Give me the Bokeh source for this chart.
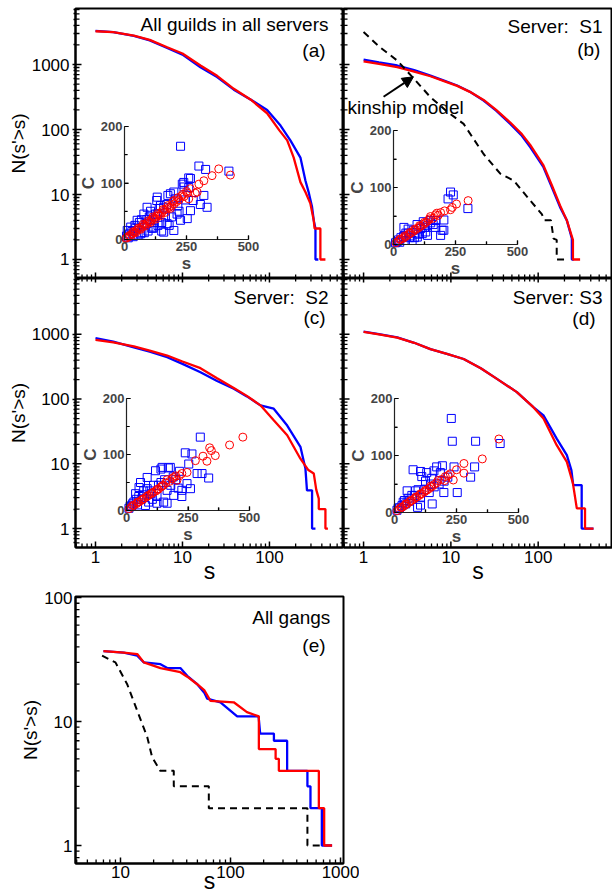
import math
from bokeh.plotting import figure
from bokeh.layouts import column, row
from bokeh.models import (Range1d, LinearScale, LinearAxis, FixedTicker,
                          PrintfTickFormatter, Label, Arrow, NormalHead)
from bokeh.embed import file_html
from bokeh.resources import INLINE

FONT = "Liberation Sans"
BLUE = "#0000ff"
RED = "#ff0000"

# ---------------- cumulative distributions N(s'>s) ----------------
a_blue_s = [1, 1.6, 2.76, 4.2, 6.67, 10, 16.1, 25, 38.9, 60.5, 94, 134, 174, 227, 259, 282, 309, 323, 338, 338, 365]
a_blue_n = [3300, 3150, 2750, 2350, 1800, 1420, 908, 640, 410, 290, 200, 115, 68, 37, 16.4, 10.9, 6.4, 4, 3, 1, 1]
a_red_s = [1, 1.6, 2.76, 4.2, 6.67, 10, 16.1, 25, 38.9, 60.5, 94, 130, 160, 190, 227, 259, 295, 323, 330, 385, 385, 440]
a_red_n = [3250, 3150, 2790, 2400, 1846, 1480, 966, 670, 423, 290, 178, 97, 68, 37, 15.5, 10.9, 7.3, 4, 3, 3, 1, 1]

b_blue_s = [1, 1.5, 2.43, 3.8, 5.83, 8.5, 11.8, 16.5, 23.7, 33, 47.9, 65, 81, 115, 143, 178, 213, 243, 243, 255]
b_blue_n = [1194, 1080, 966, 820, 674, 560, 475, 380, 279, 195, 122, 80, 53.5, 26.3, 13, 6.4, 4, 2.1, 1, 1]
b_red_s = [1, 1.5, 2.43, 3.8, 5.83, 8.5, 11.8, 16.5, 23.7, 33, 47.9, 65, 81, 115, 143, 178, 213, 250, 250, 302]
b_red_n = [1120, 1020, 910, 780, 660, 550, 470, 380, 285, 200, 128, 85, 58, 28, 14, 6.8, 4, 2, 1, 1]
b_kin_s = [1, 1.5, 2.43, 3.8, 5.83, 9, 14, 23.7, 36.8, 52.4, 81, 110, 118, 140, 150, 163, 163, 213]
b_kin_n = [3160, 1900, 1150, 600, 314, 190, 122, 42, 20.9, 16.4, 8.1, 5, 4, 4, 2.1, 2, 1, 1]

c_blue_s = [1, 1.6, 2.76, 4.2, 6.67, 10, 16.1, 25, 38.9, 55, 78.8, 112, 160, 227, 259, 270, 309, 309, 338]
c_blue_n = [870, 770, 631, 540, 443, 350, 260, 190, 144, 110, 80, 71, 39, 18.3, 8.5, 3.9, 3.9, 1, 1]
c_red_s = [1, 1.6, 2.76, 4.2, 6.67, 10, 16.1, 25, 38.9, 55, 78.8, 112, 160, 227, 280, 323, 345, 369, 369, 440, 440, 470]
c_red_n = [820, 750, 650, 560, 470, 380, 300, 210, 148, 112, 80, 47, 27.6, 12, 8, 7.1, 4, 2.9, 2, 2, 1, 1]

d_blue_s = [1, 1.5, 2.43, 3.8, 5.83, 9, 14, 22, 33.7, 57, 88, 115, 163, 213, 240, 252, 315, 315, 430]
d_blue_n = [1100, 1010, 900, 740, 590, 500, 416, 300, 205, 128, 75, 56, 24.5, 13.6, 8, 4.7, 4.7, 1, 1]
d_red_s = [1, 1.5, 2.43, 3.8, 5.83, 9, 14, 22, 33.7, 57, 88, 115, 163, 213, 250, 277, 344, 344, 430]
d_red_n = [1090, 1000, 890, 740, 590, 500, 416, 300, 205, 128, 75, 50, 19.4, 10.7, 5, 2.05, 2.05, 1, 1]

e_blue_s = [7, 10.7, 14.2, 16.3, 23.1, 26.6, 35, 40.4, 49.8, 58, 61.4, 81, 115, 180, 186, 248, 248, 327, 327, 500, 500, 533, 533, 676, 676, 838]
e_blue_n = [37, 36, 34, 30, 29, 27, 27, 23.4, 20, 17, 15.3, 14.3, 11, 11, 8, 8, 7, 7, 4, 4, 3, 3, 2, 2, 1, 1]
e_red_s = [7, 10.7, 14.2, 16.3, 23.1, 35, 40.4, 49.8, 58, 65.8, 107, 141, 181, 181, 257, 257, 275, 275, 635, 635, 710, 710, 838]
e_red_n = [37, 36, 35, 30, 27, 25, 23, 20, 17.8, 14.7, 14.3, 11.9, 11, 6, 6, 5, 5, 4, 4, 2, 2, 1, 1]
e_kin_s = [6.8, 9, 11.5, 14.2, 17.5, 19.4, 23, 30.5, 30.5, 63.5, 63.5, 500, 500, 660]
e_kin_n = [34, 30, 20, 12.2, 7.5, 5.15, 4, 4, 3, 3, 2, 2, 1, 1]

# ---------------- inset scatter: C versus s ----------------
a_sq_s = [226, 300, 327, 421, 259, 233, 240, 266, 239, 320,
          333, 306, 277, 259, 199, 132, 185, 130, 158, 132,
          212, 266, 226, 172, 118, 158, 78, 91, 51, 38,
          64, 11, 25, 199, 253, 100, 110, 150, 170, 60,
          45, 80, 140, 120, 30, 20, 90, 205, 180, 220,
          15, 35, 55, 70, 95, 115, 135, 165, 190, 245,
          8, 42, 68, 88, 105, 125, 145, 175, 215, 150]
a_sq_c = [165, 130, 124, 121, 109, 98, 93, 108, 101, 78,
          57, 62, 69, 92, 84, 75, 81, 69, 57, 45,
          45, 51, 34, 28, 22, 13, 45, 57, 34, 16,
          10, 16, 22, 16, 37, 40, 20, 30, 62, 30,
          20, 12, 55, 30, 14, 10, 35, 72, 25, 50,
          3, 5, 8, 12, 15, 20, 25, 40, 40, 70,
          6, 25, 35, 28, 50, 45, 60, 78, 60, 15]
a_ci_s = [380, 427, 353, 320, 300, 293, 285, 253, 259, 230,
          199, 5, 10, 15, 20, 30, 40, 50, 60, 70,
          80, 90, 100, 110, 120, 130, 140, 150, 160, 170,
          180, 190, 200, 210, 220, 240, 25, 45, 65, 85,
          105, 125, 145, 165, 185, 35, 55, 75, 95, 115,
          135, 155, 175, 195, 215, 235, 250, 265]
a_ci_c = [125, 114, 113, 104, 98, 84, 82, 82, 72, 77,
          69, 2, 3, 5, 7, 10, 13, 16, 19, 22,
          26, 28, 31, 35, 38, 41, 44, 47, 52, 54,
          57, 60, 63, 67, 70, 76, 6, 12, 18, 24,
          30, 36, 42, 48, 55, 14, 20, 27, 33, 40,
          46, 53, 60, 67, 74, 80, 85, 90]

b_sq_s = [230, 241, 220, 300, 203, 196, 203, 190, 169, 171,
          149, 137, 137, 116, 96, 75, 48, 42, 59, 80,
          95, 30, 20, 60, 110, 125, 150, 100, 70, 15,
          40, 85, 130, 160, 8, 25, 50, 65, 90, 120]
b_sq_c = [92, 87, 80, 63, 43, 25, 25, 16, 30, 42,
          42, 33, 16, 19, 13, 7, 7, 30, 27, 25,
          35, 12, 8, 20, 28, 30, 38, 18, 15, 5,
          14, 12, 22, 35, 3, 4, 20, 12, 20, 40]
b_ci_s = [301, 254, 237, 230, 206, 190, 169, 149, 10, 20,
          30, 40, 50, 60, 70, 80, 90, 100, 110, 120,
          130, 140, 160, 180, 25, 45, 65, 85, 105, 125,
          145, 175]
b_ci_c = [77, 71, 65, 61, 59, 56, 52, 49, 3, 6,
          9, 11, 14, 17, 20, 23, 26, 29, 32, 35,
          38, 42, 46, 51, 9, 15, 21, 27, 33, 39,
          45, 55]

c_sq_s = [300, 239, 266, 253, 287, 307, 334, 178, 145, 118,
          140, 170, 84, 57, 51, 246, 260, 225, 165, 192,
          225, 124, 151, 165, 124, 77, 84, 37, 20, 30,
          60, 100, 110, 200, 210, 90, 140, 45, 70, 190,
          10, 15, 25, 40, 50, 65, 95, 105, 130, 155,
          180, 215]
c_sq_c = [131, 103, 101, 83, 66, 66, 58, 77, 77, 71,
          74, 76, 59, 50, 41, 48, 39, 36, 36, 27,
          25, 25, 15, 13, 13, 9, 39, 30, 8, 15,
          20, 30, 45, 55, 40, 15, 50, 10, 35, 60,
          4, 8, 12, 20, 25, 28, 35, 20, 45, 55,
          45, 70]
c_ci_s = [473, 419, 338, 345, 361, 311, 280, 327, 246, 225,
          192, 205, 165, 10, 20, 30, 40, 50, 60, 70,
          80, 90, 100, 110, 120, 130, 140, 150, 175, 185,
          215, 25, 45, 65, 85, 105, 125, 145, 160, 200]
c_ci_c = [131, 117, 112, 107, 98, 97, 89, 88, 68, 66,
          59, 54, 55, 3, 6, 9, 12, 15, 18, 21,
          24, 27, 30, 33, 35, 38, 42, 45, 52, 57,
          62, 9, 15, 20, 26, 31, 38, 44, 49, 62]

d_sq_s = [229, 233, 327, 426, 193, 240, 307, 323, 253, 199,
          152, 75, 105, 130, 159, 170, 110, 145, 85, 105,
          51, 40, 93, 105, 20, 30, 60, 70, 120, 140,
          180, 200, 215, 45, 160, 10, 15, 35, 55, 80,
          95, 125, 150, 185]
d_sq_c = [165, 125, 125, 121, 82, 80, 62, 80, 35, 35,
          15, 75, 72, 70, 73, 80, 63, 50, 38, 26,
          38, 21, 9, 13, 8, 12, 20, 30, 40, 35,
          50, 55, 62, 15, 45, 4, 8, 18, 25, 30,
          40, 55, 60, 70]
d_ci_s = [421, 354, 280, 280, 250, 237, 216, 202, 175, 10,
          20, 30, 40, 50, 60, 70, 80, 90, 100, 110,
          120, 130, 140, 150, 160, 190, 225, 25, 45, 65,
          85, 105, 125, 145, 170, 205]
d_ci_c = [129, 94, 86, 69, 75, 57, 65, 56, 56, 3,
          6, 9, 12, 15, 18, 21, 24, 27, 30, 33,
          36, 39, 42, 45, 49, 58, 68, 9, 15, 21,
          27, 33, 39, 46, 52, 63]

# ---------------- tick values ----------------
main_ticks = [1, 10, 100, 1000]
e_x_ticks = [10, 100, 1000]
e_y_ticks = [1, 10, 100]
inset_s_ticks = [0, 250, 500]
inset_s_minor = [125, 375]
inset_c_ticks = [0, 100, 200]
inset_c_minor = [50, 150]

# ---------------- layout constants ----------------
XR = (0.589, 710.0)
YR = (0.51, 7280.0)
XR_E = (3.9, 1064.0)
YR_E = (0.716, 102.0)
LEFT = 75
HALF_PI = math.pi / 2


def log_minor(lo, hi):
    out = []
    for e in range(-1, 4):
        for m in range(2, 10):
            v = m * 10.0 ** e
            if lo <= v <= hi:
                out.append(v)
    return out


def fr(rng, f):
    lo, hi = math.log10(rng[0]), math.log10(rng[1])
    return 10 ** (lo + f * (hi - lo))


def make_fig(width, height, xr, yr, left, right, top, bottom):
    p = figure(width=width, height=height, x_axis_type="log", y_axis_type="log",
               x_range=Range1d(*xr), y_range=Range1d(*yr),
               output_backend="svg", toolbar_location=None,
               min_border_left=left, min_border_right=right,
               min_border_top=top, min_border_bottom=bottom)
    p.xgrid.visible = False
    p.ygrid.visible = False
    p.outline_line_color = "black"
    p.outline_line_width = 2
    p.outline_line_alpha = 1.0
    p.background_fill_color = None
    p.border_fill_color = "white"
    return p


def style_axis(ax, ticks, minor, show_labels, label=None, label_standoff=0, t_out=0):
    ax.ticker = FixedTicker(ticks=ticks, minor_ticks=minor)
    ax.formatter = PrintfTickFormatter(format="%d")
    ax.axis_line_color = "black"
    ax.axis_line_width = 2
    ax.major_tick_line_color = "black"
    ax.major_tick_line_width = 1.5
    ax.minor_tick_line_color = "black"
    ax.minor_tick_line_width = 1.3
    ax.major_tick_in = 0
    ax.major_tick_out = t_out
    ax.minor_tick_in = 0
    ax.minor_tick_out = (t_out * 2) // 3
    if show_labels:
        ax.major_label_text_font = FONT
        ax.major_label_text_font_size = "17px"
        ax.major_label_text_color = "black"
        ax.major_label_standoff = 3
    else:
        ax.major_label_text_color = None
        ax.major_label_text_font_size = "0px"
        ax.major_label_standoff = 0
    ax.axis_label = label
    ax.axis_label_text_font = FONT
    ax.axis_label_text_font_style = "normal"
    ax.axis_label_text_color = "black"
    ax.axis_label_standoff = label_standoff


def inner_ticks(p, side, major, minor, xr, yr, big=6, small=4):
    # tick marks pointing into the frame, drawn from the frame edge
    for vals, length, width in ((major, big, 1.5), (minor, small, 1.3)):
        if side == "bottom":
            p.ray(x=vals, y=yr[0], angle=HALF_PI, length=length, length_units="screen",
                  line_color="black", line_width=width)
        elif side == "top":
            p.ray(x=vals, y=yr[1], angle=-HALF_PI, length=length, length_units="screen",
                  line_color="black", line_width=width)
        elif side == "left":
            p.ray(x=xr[0], y=vals, angle=0, length=length, length_units="screen",
                  line_color="black", line_width=width)
        else:
            p.ray(x=xr[1], y=vals, angle=math.pi, length=length, length_units="screen",
                  line_color="black", line_width=width)


def inset_range(f0, f1, vmax):
    k = vmax / (f1 - f0)
    start = -f0 * k
    return Range1d(start=start, end=start + k)


def add_inset(p, fx0, fx1, fy0, fy1, sq_s, sq_c, ci_s, ci_c):
    p.extra_x_ranges = {"ix": inset_range(fx0, fx1, 500)}
    p.extra_y_ranges = {"iy": inset_range(fy0, fy1, 200)}
    p.extra_x_scales = {"ix": LinearScale()}
    p.extra_y_scales = {"iy": LinearScale()}
    p.scatter(sq_s, sq_c, marker="square", size=8, line_color=BLUE, fill_color=None,
              line_width=1, x_range_name="ix", y_range_name="iy")
    p.scatter(ci_s, ci_c, marker="circle", size=8, line_color=RED, fill_color=None,
              line_width=1, x_range_name="ix", y_range_name="iy")
    # inset tick marks (pointing inwards)
    for vals, length in ((inset_s_ticks[1:], 4), (inset_s_minor, 3)):
        p.ray(x=vals, y=0, angle=HALF_PI, length=length, length_units="screen",
              line_color="#222222", line_width=1.2, x_range_name="ix", y_range_name="iy")
    for vals, length in ((inset_c_ticks[1:], 4), (inset_c_minor, 3)):
        p.ray(x=0, y=vals, angle=0, length=length, length_units="screen",
              line_color="#222222", line_width=1.2, x_range_name="ix", y_range_name="iy")
    for dim in ("x", "y"):
        if dim == "x":
            ax = LinearAxis(x_range_name="ix", y_range_name="iy", fixed_location=0,
                            bounds=(0, 500),
                            ticker=FixedTicker(ticks=inset_s_ticks, minor_ticks=inset_s_minor),
                            axis_label="s")
        else:
            ax = LinearAxis(x_range_name="ix", y_range_name="iy", fixed_location=0,
                            bounds=(0, 200),
                            ticker=FixedTicker(ticks=inset_c_ticks, minor_ticks=inset_c_minor),
                            axis_label="C")
        ax.axis_line_color = "#222222"
        ax.axis_line_width = 1.2
        ax.major_tick_line_width = 1.2
        ax.minor_tick_line_width = 1.2
        ax.major_tick_in = 4
        ax.major_tick_out = 0
        ax.minor_tick_in = 3
        ax.minor_tick_out = 0
        ax.major_label_text_font = FONT
        ax.major_label_text_font_style = "bold"
        ax.major_label_text_font_size = "13px"
        ax.major_label_standoff = 2
        ax.axis_label_text_font = FONT
        ax.axis_label_text_font_style = "bold"
        ax.axis_label_text_font_size = "17px"
        ax.axis_label_standoff = 0
        p.add_layout(ax, "below" if dim == "x" else "left")


def put_text(p, xr, yr, fx, fy, text, size="19px", align="right"):
    p.add_layout(Label(x=fr(xr, fx), y=fr(yr, fy), text=text, text_align=align,
                       text_baseline="middle", text_font=FONT, text_font_size=size,
                       text_color="black"))


def curves(p, bs, bn, rs, rn):
    p.line(bs, bn, line_color=BLUE, line_width=2.3)
    p.line(rs, rn, line_color=RED, line_width=2.3)


xminor = log_minor(*XR)
yminor = log_minor(*YR)

# ---- panel (a)
fa = make_fig(LEFT + 268, 278, XR, YR, LEFT, 0, 8, 0)
style_axis(fa.left[0], main_ticks, yminor, True, "N(s'>s)", t_out=3)
fa.left[0].axis_label_text_font_size = "19px"
style_axis(fa.below[0], main_ticks, xminor, False)
inner_ticks(fa, "left", main_ticks, yminor, XR, YR)
inner_ticks(fa, "bottom", main_ticks, xminor, XR, YR)
inner_ticks(fa, "right", main_ticks, yminor, XR, YR, big=4, small=3)
curves(fa, a_blue_s, a_blue_n, a_red_s, a_red_n)
add_inset(fa, (124 - 75) / 268, (248 - 75) / 268, (278 - 239) / 270, (278 - 126) / 270,
          a_sq_s, a_sq_c, a_ci_s, a_ci_c)
put_text(fa, XR, YR, 0.944, 0.9405, "All guilds in all servers")
put_text(fa, XR, YR, 0.933, 0.844, "(a)")

# ---- panel (b)
fb = make_fig(269, 278, XR, YR, 0, 0, 8, 0)
style_axis(fb.left[0], main_ticks, yminor, False)
style_axis(fb.below[0], main_ticks, xminor, False)
inner_ticks(fb, "left", main_ticks, yminor, XR, YR)
inner_ticks(fb, "bottom", main_ticks, xminor, XR, YR)
curves(fb, b_blue_s, b_blue_n, b_red_s, b_red_n)
fb.line(b_kin_s, b_kin_n, line_color="black", line_width=2, line_dash="7 5")
add_inset(fb, (393 - 343) / 269, (517 - 343) / 269, (278 - 244) / 270, (278 - 130) / 270,
          b_sq_s, b_sq_c, b_ci_s, b_ci_c)
put_text(fb, XR, YR, 0.963, 0.933, "Server:\u00a0 S1")
put_text(fb, XR, YR, 0.955, 0.848, "(b)")
put_text(fb, XR, YR, 0.015, 0.632, "kinship model", align="left")
fb.add_layout(Arrow(x_start=fr(XR, 0.149), y_start=fr(YR, 0.673),
                    x_end=fr(XR, 0.260), y_end=fr(YR, 0.747),
                    line_color="black", line_width=2,
                    end=NormalHead(size=11, fill_color="black", line_color="black")))

# ---- panel (c)
fc = make_fig(LEFT + 268, 310, XR, YR, LEFT, 0, 0, 41)
style_axis(fc.left[0], main_ticks, yminor, True, "N(s'>s)", t_out=3)
fc.left[0].axis_label_text_font_size = "19px"
style_axis(fc.below[0], main_ticks, xminor, True, "s", label_standoff=-8)
fc.below[0].axis_label_text_font_size = "23px"
inner_ticks(fc, "left", main_ticks, yminor, XR, YR)
inner_ticks(fc, "bottom", main_ticks, xminor, XR, YR)
inner_ticks(fc, "top", main_ticks, xminor, XR, YR, big=4, small=3)
inner_ticks(fc, "right", main_ticks, yminor, XR, YR, big=4, small=3)
curves(fc, c_blue_s, c_blue_n, c_red_s, c_red_n)
add_inset(fc, (126 - 75) / 268, (249 - 75) / 268, (547 - 510) / 269, (547 - 398) / 269,
          c_sq_s, c_sq_c, c_ci_s, c_ci_c)
put_text(fc, XR, YR, 0.944, 0.929, "Server:\u00a0 S2")
put_text(fc, XR, YR, 0.933, 0.855, "(c)")

# ---- panel (d)
fd = make_fig(269, 310, XR, YR, 0, 0, 0, 41)
style_axis(fd.left[0], main_ticks, yminor, False)
style_axis(fd.below[0], main_ticks, xminor, True, "s", label_standoff=-8)
fd.below[0].axis_label_text_font_size = "23px"
inner_ticks(fd, "left", main_ticks, yminor, XR, YR)
inner_ticks(fd, "bottom", main_ticks, xminor, XR, YR)
inner_ticks(fd, "top", main_ticks, xminor, XR, YR, big=4, small=3)
curves(fd, d_blue_s, d_blue_n, d_red_s, d_red_n)
add_inset(fd, (394 - 343) / 269, (518 - 343) / 269, (547 - 512) / 269, (547 - 398) / 269,
          d_sq_s, d_sq_c, d_ci_s, d_ci_c)
put_text(fd, XR, YR, 0.963, 0.929, "Server: S3")
put_text(fd, XR, YR, 0.937, 0.851, "(d)")

# ---- panel (e)
fe = make_fig(LEFT + 268 + 16, 308, XR_E, YR_E, LEFT, 16, 8, 33)
style_axis(fe.left[0], e_y_ticks, log_minor(*YR_E), True, "N(s'>s)")
fe.left[0].axis_label_text_font_size = "19px"
style_axis(fe.below[0], e_x_ticks, log_minor(*XR_E), True, "s", label_standoff=-13)
fe.below[0].axis_label_text_font_size = "23px"
fe.below[0].major_label_standoff = 2
inner_ticks(fe, "left", e_y_ticks, log_minor(*YR_E), XR_E, YR_E)
inner_ticks(fe, "bottom", e_x_ticks, log_minor(*XR_E), XR_E, YR_E)
curves(fe, e_blue_s, e_blue_n, e_red_s, e_red_n)
fe.line(e_kin_s, e_kin_n, line_color="black", line_width=2, line_dash="7 5")
put_text(fe, XR_E, YR_E, 0.951, 0.921, "All gangs")
put_text(fe, XR_E, YR_E, 0.933, 0.816, "(e)")

layout = column(row(fa, fb), row(fc, fd), fe)

with open("out.html", "w") as f:
    f.write(file_html(layout, INLINE))
